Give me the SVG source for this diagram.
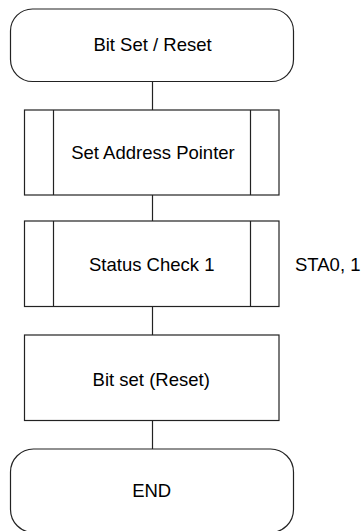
<svg xmlns="http://www.w3.org/2000/svg" width="361" height="531" viewBox="0 0 361 531">
<style>
.shape{fill:#fff;stroke:#222;stroke-width:1.2}
.line{stroke:#222;stroke-width:1.2;fill:none}
.lbl{font-family:"Liberation Sans",Arial,sans-serif;font-size:18.5px;fill:#000;text-anchor:middle}
.note{font-family:"Liberation Sans",Arial,sans-serif;font-size:18.5px;fill:#000}
</style>
<rect width="361" height="531" fill="#fff"/>
<g id="connectors">
<line class="line" x1="152.5" y1="81.5" x2="152.5" y2="110"/>
<line class="line" x1="152.5" y1="195" x2="152.5" y2="221"/>
<line class="line" x1="152.5" y1="306.5" x2="152.5" y2="335"/>
<line class="line" x1="152.5" y1="420.5" x2="152.5" y2="449"/>
</g>
<g id="start">
<rect class="shape" x="10.5" y="9" width="283" height="72.5" rx="22" ry="22"/>
<text class="lbl" x="152.5" y="50.7">Bit Set / Reset</text>
</g>
<g id="set-address-pointer">
<rect class="shape" x="24.5" y="110" width="254.5" height="85"/>
<line class="line" x1="53.5" y1="110" x2="53.5" y2="195"/>
<line class="line" x1="250.5" y1="110" x2="250.5" y2="195"/>
<text class="lbl" x="153" y="159.3">Set Address Pointer</text>
</g>
<g id="status-check-1">
<rect class="shape" x="24.5" y="221" width="254.5" height="85.5"/>
<line class="line" x1="53.5" y1="221" x2="53.5" y2="306.5"/>
<line class="line" x1="250.5" y1="221" x2="250.5" y2="306.5"/>
<text class="lbl" x="151.7" y="270.7">Status Check 1</text>
<text class="note" x="295" y="270.7">STA0, 1</text>
</g>
<g id="bit-set-reset">
<rect class="shape" x="24.5" y="335" width="254.5" height="85.5"/>
<text class="lbl" x="151.2" y="385.7">Bit set (Reset)</text>
</g>
<g id="end">
<rect class="shape" x="10.5" y="449" width="283" height="83.5" rx="23" ry="23"/>
<text class="lbl" x="151.7" y="496.7">END</text>
</g>
</svg>
